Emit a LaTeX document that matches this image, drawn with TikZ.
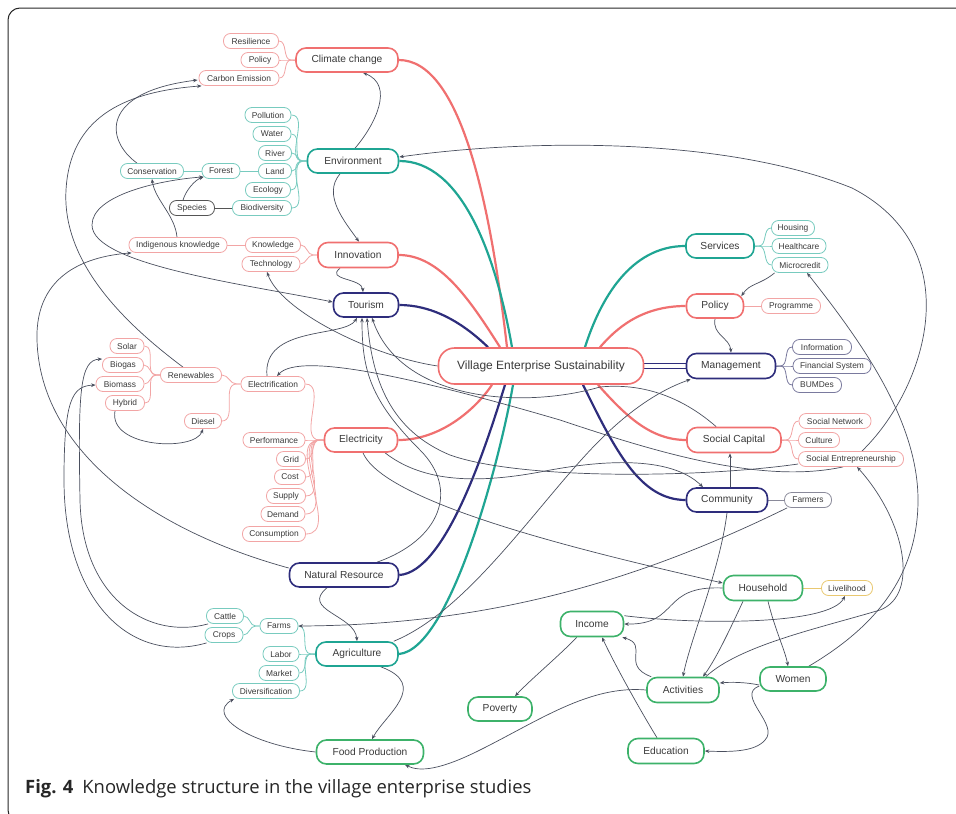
\documentclass[tikz,border=0pt]{standalone}
\usepackage{fontspec}
\setmainfont{Liberation Sans}
\newfontfamily\capfont{Open Sans}
\usetikzlibrary{arrows.meta,calc}
\pgfdeclarelayer{bg}
\pgfsetlayers{bg,main}
\definecolor{cred}{HTML}{F07070}
\definecolor{credl}{HTML}{F2A5A5}
\definecolor{cteal}{HTML}{1FA593}
\definecolor{ctealL}{HTML}{78CBBF}
\definecolor{cnavy}{HTML}{2E2D7C}
\definecolor{cnavyL}{HTML}{7A7A9E}
\definecolor{cgreen}{HTML}{3DB26A}
\definecolor{cgray}{HTML}{555555}
\definecolor{cgrayL}{HTML}{8A8A9A}
\definecolor{cyellow}{HTML}{E9C870}
\definecolor{carrow}{HTML}{4A4F5E}
\definecolor{ctext}{HTML}{3A3A3A}
\tikzset{
  main/.style={draw, line width=1.6pt, rounded corners=10pt, fill=white, font=\fontsize{10.2}{12}\selectfont, text=ctext, inner sep=0pt, minimum height=24pt},
  leaf/.style={draw, line width=0.8pt, rounded corners=7pt, fill=white, font=\fontsize{8.4}{10}\selectfont, text=ctext, inner sep=0pt, minimum height=15pt},
  rel/.style={draw=carrow, line width=0.7pt, -{Stealth[length=4.5pt,width=3.6pt]}},
  relb/.style={draw=carrow, line width=0.7pt, {Stealth[length=4.5pt,width=3.6pt]}-{Stealth[length=4.5pt,width=3.6pt]}},
  br/.style={line width=2.2pt},
  tw/.style={line width=0.8pt}
}
\begin{document}
\begin{tikzpicture}[x=1pt,y=-1pt]
\useasboundingbox (0,0) rectangle (956,814);
\draw[line width=1pt, black!85, rounded corners=12pt] (990,8) -- (8,8) -- (8,822) -- (40,822);

% ---------- main nodes ----------
\node[main,draw=cred,minimum width=102pt] (climate) at (347,60) {Climate change};
\node[main,draw=cteal,minimum width=91pt] (env) at (353,161) {Environment};
\node[main,draw=cred,minimum width=80pt,minimum height=25pt] (innov) at (358,255) {Innovation};
\node[main,draw=cnavy,minimum width=65pt] (tourism) at (366,305) {Tourism};
\node[main,draw=cred,minimum width=205pt,minimum height=36pt,rounded corners=16pt,font=\fontsize{12}{14}\selectfont] (ves) at (541,366) {Village Enterprise Sustainability};
\node[main,draw=cred,minimum width=73pt] (elec) at (361,440) {Electricity};
\node[main,draw=cnavy,minimum width=109pt] (natres) at (344,575) {Natural Resource};
\node[main,draw=cteal,minimum width=82pt] (agri) at (357,654) {Agriculture};
\node[main,draw=cgreen,minimum width=107pt] (food) at (370,752) {Food Production};
\node[main,draw=cteal,minimum width=68pt] (services) at (720,246) {Services};
\node[main,draw=cred,minimum width=57pt] (policy) at (715,306) {Policy};
\node[main,draw=cnavy,minimum width=89pt,minimum height=25pt] (mgmt) at (731,366) {Management};
\node[main,draw=cred,minimum width=94pt,minimum height=25pt] (social) at (734,440) {Social Capital};
\node[main,draw=cnavy,minimum width=81pt] (community) at (727,500) {Community};
\node[main,draw=cgreen,minimum width=79pt,minimum height=25pt] (household) at (763,588) {Household};
\node[main,draw=cgreen,minimum width=63pt,minimum height=25pt] (income) at (592,624) {Income};
\node[main,draw=cgreen,minimum width=72pt,minimum height=25pt] (activities) at (683,690) {Activities};
\node[main,draw=cgreen,minimum width=66pt] (women) at (793,679) {Women};
\node[main,draw=cgreen,minimum width=64pt] (poverty) at (500,709) {Poverty};
\node[main,draw=cgreen,minimum width=76pt,minimum height=25pt] (education) at (666,751) {Education};

% ---------- leaves ----------
\node[leaf,draw=credl,minimum width=55pt] (resil) at (251,41) {Resilience};
\node[leaf,draw=credl,minimum width=38pt] (policyS) at (260,60) {Policy};
\node[leaf,draw=credl,minimum width=80pt] (carbon) at (239,78) {Carbon Emission};
\node[leaf,draw=ctealL,minimum width=46pt] (pollution) at (268,115) {Pollution};
\node[leaf,draw=ctealL,minimum width=38pt] (water) at (272,134) {Water};
\node[leaf,draw=ctealL,minimum width=33pt] (river) at (275,153) {River};
\node[leaf,draw=ctealL,minimum width=33pt] (land) at (275,171) {Land};
\node[leaf,draw=ctealL,minimum width=45pt] (ecology) at (268,190) {Ecology};
\node[leaf,draw=ctealL,minimum width=59pt] (biodiv) at (262,208) {Biodiversity};
\node[leaf,draw=ctealL,minimum width=38pt] (forest) at (221,171) {Forest};
\node[leaf,draw=ctealL,minimum width=63pt] (conserv) at (152,171) {Conservation};
\node[leaf,draw=cgray,minimum width=45pt] (species) at (192,208) {Species};
\node[leaf,draw=credl,minimum width=55pt] (knowl) at (273,245) {Knowledge};
\node[leaf,draw=credl,minimum width=58pt] (techn) at (271,264) {Technology};
\node[leaf,draw=credl,minimum width=98pt] (indig) at (178,245) {Indigenous knowledge};
\node[leaf,draw=credl,minimum width=34pt] (solar) at (127,346) {Solar};
\node[leaf,draw=credl,minimum width=41pt] (biogas) at (123,365) {Biogas};
\node[leaf,draw=credl,minimum width=48pt] (biomass) at (120,384) {Biomass};
\node[leaf,draw=credl,minimum width=39pt] (hybrid) at (125,403) {Hybrid};
\node[leaf,draw=credl,minimum width=61pt] (renew) at (191,375) {Renewables};
\node[leaf,draw=credl,minimum width=37pt] (diesel) at (203,421) {Diesel};
\node[leaf,draw=credl,minimum width=64pt] (electrif) at (273,384) {Electrification};
\node[leaf,draw=credl,minimum width=62pt] (perf) at (274,440) {Performance};
\node[leaf,draw=credl,minimum width=29pt] (grid) at (291,459) {Grid};
\node[leaf,draw=credl,minimum width=31pt] (cost) at (290,477) {Cost};
\node[leaf,draw=credl,minimum width=39pt] (supply) at (286,496) {Supply};
\node[leaf,draw=credl,minimum width=44pt] (demand) at (283,514) {Demand};
\node[leaf,draw=credl,minimum width=63pt] (consum) at (274,534) {Consumption};
\node[leaf,draw=ctealL,minimum width=37pt] (cattle) at (225,616) {Cattle};
\node[leaf,draw=ctealL,minimum width=38pt] (crops) at (224,635) {Crops};
\node[leaf,draw=ctealL,minimum width=38pt] (farms) at (279,626) {Farms};
\node[leaf,draw=ctealL,minimum width=36pt] (labor) at (281,654) {Labor};
\node[leaf,draw=ctealL,minimum width=40pt] (market) at (279,673) {Market};
\node[leaf,draw=ctealL,minimum width=67pt] (divers) at (266,691) {Diversification};
\node[leaf,draw=ctealL,minimum width=43pt] (housing) at (793,228) {Housing};
\node[leaf,draw=ctealL,minimum width=54pt] (health) at (799,246) {Healthcare};
\node[leaf,draw=ctealL,minimum width=56pt] (micro) at (800,265) {Microcredit};
\node[leaf,draw=credl,minimum width=59pt] (programme) at (791,306) {Programme};
\node[leaf,draw=cnavyL,minimum width=59pt] (info) at (822,347) {Information};
\node[leaf,draw=cnavyL,minimum width=78pt] (fin) at (832,366) {Financial System};
\node[leaf,draw=cnavyL,minimum width=49pt] (bumdes) at (817,385) {BUMDes};
\node[leaf,draw=credl,minimum width=72pt] (socnet) at (835,421) {Social Network};
\node[leaf,draw=credl,minimum width=41pt] (culture) at (819,440) {Culture};
\node[leaf,draw=credl,minimum width=105pt] (socent) at (851,459) {Social Entrepreneurship};
\node[leaf,draw=cgrayL,minimum width=47pt] (farmers) at (808,500) {Farmers};
\node[leaf,draw=cyellow,minimum width=51pt] (liveli) at (847,588) {Livelihood};

% ---------- caption ----------
\node[anchor=base west, inner sep=0pt, font=\capfont\fontsize{18.4}{22}\selectfont, text=black!85] (cap) at (25,793) {\textbf{Fig. 4}\hspace{9pt}Knowledge structure in the village enterprise studies};

\begin{pgfonlayer}{bg}
% ---------- thick branches ----------
\draw[br,cred] (climate.east) .. controls (460,60) and (490,200) .. ($(ves.north)+(-34,0)$);
\draw[br,cteal] (env.east) .. controls (460,161) and (495,250) .. ($(ves.north)+(-29,0)$);
\draw[br,cred] (innov.east) .. controls (440,255) and (470,300) .. ($(ves.north)+(-41,0)$);
\draw[br,cnavy] (tourism.east) .. controls (430,305) and (460,320) .. ($(ves.north)+(-53,0)$);
\draw[br,cred] (elec.east) .. controls (440,440) and (475,410) .. ($(ves.south)+(-49,0)$);
\draw[br,cnavy] (natres.east) .. controls (445,572) and (485,450) .. ($(ves.south)+(-36,0)$);
\draw[br,cteal] (agri.east) .. controls (450,650) and (500,460) .. ($(ves.south)+(-28,0)$);
\draw[br,cteal] (services.west) .. controls (630,246) and (600,300) .. ($(ves.north)+(44,0)$);
\draw[br,cred] (policy.west) .. controls (640,306) and (615,330) .. ($(ves.north)+(59,0)$);
\draw[br,cred] ($(ves.south)+(57,0)$) .. controls (625,415) and (650,440) .. (social.west);
\draw[br,cnavy] ($(ves.south)+(42,0)$) .. controls (615,450) and (640,500) .. (community.west);
\draw[line width=1.8pt,cnavy] ($(ves.east)+(0,-2.5)$) -- ($(mgmt.west)+(0,-2.5)$);
\draw[line width=1.8pt,cnavy] ($(ves.east)+(0,2.5)$) -- ($(mgmt.west)+(0,2.5)$);

% ---------- leaf fans ----------
\foreach \l in {resil,policyS,carbon} \draw[tw,credl] (\l.east) to[out=0,in=180] ($(climate.west)+(-4,0)$) -- (climate.west);
\foreach \l in {pollution,water,river,land,ecology,biodiv} \draw[tw,ctealL] (\l.east) to[out=0,in=180] ($(env.west)+(-4,0)$) -- (env.west);
\foreach \l in {knowl,techn} \draw[tw,credl] (\l.east) to[out=0,in=180] ($(innov.west)+(-4,0)$) -- (innov.west);
\foreach \l in {electrif,perf,grid,cost,supply,demand,consum} \draw[tw,credl] (\l.east) to[out=0,in=180] ($(elec.west)+(-4,0)$) -- (elec.west);
\foreach \l in {renew,diesel} \draw[tw,credl] (\l.east) to[out=0,in=180] ($(electrif.west)+(-4,0)$) -- (electrif.west);
\foreach \l in {solar,biogas,biomass,hybrid} \draw[tw,credl] (\l.east) to[out=0,in=180] ($(renew.west)+(-4,0)$) -- (renew.west);
\foreach \l in {farms,labor,market,divers} \draw[tw,ctealL] (\l.east) to[out=0,in=180] ($(agri.west)+(-4,0)$) -- (agri.west);
\foreach \l in {cattle,crops} \draw[tw,ctealL] (\l.east) to[out=0,in=180] ($(farms.west)+(-4,0)$) -- (farms.west);
\foreach \l in {housing,health,micro} \draw[tw,ctealL] (services.east) -- ($(services.east)+(4,0)$) to[out=0,in=180] (\l.west);
\foreach \l in {info,fin,bumdes} \draw[tw,cnavyL] (mgmt.east) -- ($(mgmt.east)+(4,0)$) to[out=0,in=180] (\l.west);
\foreach \l in {socnet,culture,socent} \draw[tw,credl] (social.east) -- ($(social.east)+(4,0)$) to[out=0,in=180] (\l.west);
\draw[tw,credl] (policy.east) -- (programme.west);
\draw[tw,cgrayL] (community.east) -- (farmers.west);
\draw[tw,cyellow] (household.east) -- (liveli.west);
\draw[tw,ctealL] (forest.east) -- (land.west);
\draw[tw,ctealL] (conserv.east) -- (forest.west);
\draw[tw,credl] (indig.east) -- (knowl.west);
\draw[tw,cgray] (species.east) -- (biodiv.west);

% ---------- relations ----------
\draw[rel] ($(env.north)+(2,0)$) .. controls (375,125) and (395,85) .. ($(climate.south)+(16,0)$);
\draw[rel] ($(env.south)+(-13,0)$) .. controls (322,195) and (345,222) .. ($(innov.north)+(1,0)$);
\draw[rel] ($(innov.south)+(-18,0)$) .. controls (325,280) and (362,278) .. ($(tourism.north)+(-3,0)$);
\draw[rel] ($(conserv.north)+(-15,0)$) .. controls (105,140) and (100,92) .. ($(carbon.west)+(-1,2)$);
\draw[rel] ($(renew.north)+(-8,0)$) .. controls (120,320) and (62,260) .. (66,190) .. controls (70,120) and (120,92) .. ($(carbon.south west)+(3,0)$);
\draw[rel] ($(indig.north)+(-1,0)$) .. controls (175,215) and (155,200) .. (conserv.south);
\draw[rel] ($(species.north)+(-9,0)$) .. controls (186,190) and (195,180) .. ($(forest.south west)+(2,-2)$);
\draw[relb] ($(tourism.west)+(0,-3)$) .. controls (250,285) and (92,265) .. (92,225) .. controls (92,195) and (160,180) .. ($(forest.south west)+(2,-2)$);
\draw[rel] ($(natres.west)+(0,-7)$) .. controls (150,530) and (40,450) .. (37,340) .. controls (35,272) and (90,256) .. ($(indig.south west)+(3,0)$);
\draw[rel] ($(cattle.south west)+(2,0)$) .. controls (150,640) and (82,600) .. (80,500) .. controls (78,390) and (80,360) .. ($(biogas.west)+(0,-6)$);
\draw[rel] ($(crops.south west)+(2,0)$) .. controls (130,665) and (64,600) .. (64,480) .. controls (64,400) and (72,386) .. ($(biomass.west)+(0,1)$);
\draw[rel] ($(hybrid.south)+(-10,0)$) .. controls (108,448) and (195,452) .. (diesel.south);
\draw[rel] ($(electrif.north)+(-6,0)$) .. controls (262,325) and (345,338) .. ($(tourism.south)+(-9,0)$);
\draw[rel] ($(socent.south)+(-8,0)$) .. controls (760,485) and (650,450) .. (560,420) .. controls (430,382) and (300,350) .. ($(electrif.north)+(4,0)$);
\draw[rel] ($(socent.north east)+(-42,0)$) .. controls (925,390) and (972,250) .. (852,188) .. controls (720,135) and (520,140) .. ($(env.east)+(0,-4)$);
\draw[rel] ($(socent.west)+(0,5)$) .. controls (700,478) and (520,480) .. (450,455) .. controls (390,430) and (372,380) .. ($(tourism.south)+(1,0)$);
\draw[rel] ($(social.north west)+(30,0)$) .. controls (680,395) and (640,383) .. (600,387) .. controls (520,410) and (400,400) .. ($(tourism.south)+(6,0)$);
\draw[rel] ($(natres.north)+(33,0)$) .. controls (440,540) and (460,490) .. (420,450) .. controls (370,400) and (362,370) .. ($(tourism.south)+(-4,0)$);
\draw[rel] ($(elec.south)+(24,0)$) .. controls (420,480) and (470,485) .. (540,472) .. controls (600,460) and (670,455) .. ($(community.north)+(-24,0)$);
\draw[rel] ($(elec.south)+(2,0)$) .. controls (385,505) and (600,555) .. ($(household.west)+(0,-5)$);
\draw[rel] ($(agri.north east)+(-5,0)$) .. controls (470,610) and (540,500) .. (600,440) .. controls (630,410) and (660,390) .. ($(mgmt.south west)+(5,0)$);
\draw[rel] ($(natres.south)+(-17,0)$) .. controls (300,610) and (355,615) .. (agri.north);
\draw[rel] ($(farmers.south west)+(3,0)$) .. controls (650,575) and (500,625) .. (farms.east);
\draw[rel] (community.south) .. controls (720,570) and (690,640) .. (activities.north);
\draw[rel] ($(community.north)+(3,0)$) -- ($(social.south)+(-4,0)$);
\draw[rel] (policy.south) .. controls (712,335) and (730,338) .. (mgmt.north);
\draw[rel] ($(micro.south west)+(3,0)$) .. controls (760,285) and (750,283) .. ($(policy.north east)+(-3,3)$);
\draw[rel] ($(women.north east)+(-18,0)$) .. controls (870,630) and (918,580) .. (918,500) .. controls (918,420) and (860,340) .. ($(micro.south)+(7,0)$);
\draw[rel] ($(activities.north east)+(-14,0)$) .. controls (740,645) and (820,628) .. (880,610) .. controls (920,595) and (905,520) .. ($(socent.south)+(6,0)$);
\draw[rel] (household.west) .. controls (660,585) and (680,625) .. (income.east);
\draw[rel] ($(income.north east)+(0,5)$) .. controls (700,625) and (830,625) .. ($(liveli.south)+(-2,0)$);
\draw[rel] ($(income.south west)+(17,0)$) .. controls (560,655) and (530,680) .. ($(poverty.north)+(15,0)$);
\draw[rel] ($(education.north)+(-9,0)$) .. controls (640,710) and (615,665) .. ($(income.south)+(10,0)$);
\draw[rel] ($(activities.north west)+(5,0)$) .. controls (620,665) and (650,645) .. ($(income.south east)+(-2,0)$);
\draw[rel] ($(household.south)+(-20,0)$) .. controls (725,640) and (715,660) .. ($(activities.north)+(20,0)$);
\draw[rel] ($(household.south)+(5,0)$) .. controls (775,630) and (785,650) .. ($(women.north)+(-5,0)$);
\draw[rel] ($(women.west)+(0,6)$) .. controls (745,682) and (730,682) .. ($(activities.east)+(0,-7)$);
\draw[rel] ($(women.west)+(0,7)$) .. controls (735,695) and (780,725) .. (765,740) .. controls (755,752) and (730,752) .. (education.east);
\draw[rel] (activities.west) .. controls (590,685) and (540,720) .. (480,750) .. controls (440,770) and (420,772) .. ($(food.south)+(35,0)$);
\draw[rel] (food.west) .. controls (250,745) and (205,715) .. ($(divers.south west)+(2,0)$);
\draw[rel] ($(agri.south east)+(-18,0)$) .. controls (430,685) and (385,715) .. ($(food.north)+(2,0)$);
\draw[rel] (ves.west) .. controls (370,356) and (280,310) .. ($(techn.south)+(-4,0)$);
\end{pgfonlayer}
\end{tikzpicture}
\end{document}
